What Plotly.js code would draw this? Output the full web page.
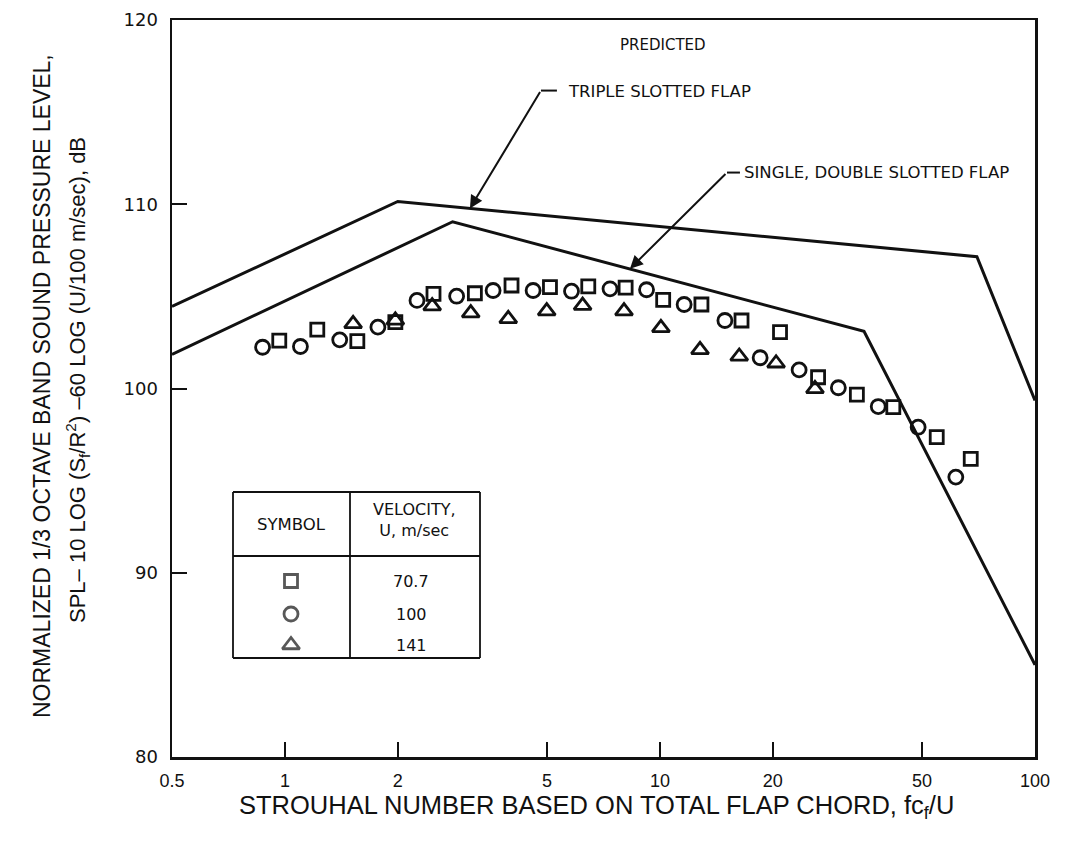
<!DOCTYPE html>
<html>
<head>
<meta charset="utf-8">
<script src="https://cdn.plot.ly/plotly-3.0.1.min.js"></script>
<style>
html,body{margin:0;padding:0;background:#fff;}
#chart{width:1088px;height:843px;}
</style>
</head>
<body>
<div id="chart"></div>
<script>
// ---- data ----
const xTickVals = [0.5, 1, 2, 5, 10, 20, 50, 100];
const xTickText = ["0.5", "1", "2", "5", "10", "20", "50", "100"];
const yTickVals = [80, 90, 100, 110, 120];

// predicted curves
const tripleX = [0.5, 2.0, 70, 100];
const tripleY = [104.45, 110.15, 107.15, 99.35];
const singleX = [0.5, 2.8, 35, 100];
const singleY = [101.85, 109.05, 103.1, 85.0];

// measured, U = 70.7 m/sec (squares)
const sqX = [0.966, 1.22, 1.56, 1.97, 2.49, 3.21, 4.02, 5.09, 6.44, 8.10, 10.2, 12.9, 16.5, 20.9, 26.4, 33.5, 41.9, 54.7, 67.4];
const sqY = [102.6, 103.2, 102.57, 103.6, 105.14, 105.17, 105.59, 105.5, 105.54, 105.47, 104.81, 104.56, 103.69, 103.06, 100.61, 99.67, 98.99, 97.36, 96.18];
// U = 100 m/sec (circles)
const ciX = [0.872, 1.10, 1.40, 1.77, 2.25, 2.87, 3.59, 4.59, 5.81, 7.36, 9.21, 11.6, 14.9, 18.5, 23.5, 29.9, 38.2, 48.8, 61.5];
const ciY = [102.24, 102.28, 102.64, 103.33, 104.78, 105.01, 105.32, 105.32, 105.28, 105.41, 105.36, 104.56, 103.69, 101.67, 101.01, 100.04, 99.02, 97.9, 95.19];
// U = 141 m/sec (triangles)
const trX = [1.52, 1.97, 2.47, 3.13, 3.94, 4.99, 6.22, 8.02, 10.06, 12.79, 16.27, 20.4, 25.9];
const trY = [103.51, 103.7, 104.47, 104.09, 103.78, 104.2, 104.5, 104.2, 103.29, 102.1, 101.74, 101.37, 99.98];

// legend table content
const legendSymbols = ["square-open", "circle-open", "triangle-up-open"];
const legendVelocities = ["70.7", "100", "141"];

// ---- layout constants ----
const W = 1088, H = 843;
const M = {l: 172, r: 53, t: 20, b: 86};
const PW = W - M.l - M.r, PH = H - M.t - M.b;
const px2paperX = px => (px - M.l) / PW;
const px2paperY = py => (H - M.b - py) / PH;

const black = '#111';
const FONT = 'DejaVu Sans, Liberation Sans, Arial, sans-serif';
const SANS = 'Liberation Sans, Arial, sans-serif';
const NARROW = 'Liberation Sans Narrow, Liberation Sans, Arial, sans-serif';

const mk = (sym, size) => ({symbol: sym, size: size, color: black, line: {color: black, width: 2.8}});

const traces = [
  {x: tripleX, y: tripleY, mode: 'lines', line: {color: black, width: 3}, hoverinfo: 'skip'},
  {x: singleX, y: singleY, mode: 'lines', line: {color: black, width: 3}, hoverinfo: 'skip'},
  {x: sqX, y: sqY, mode: 'markers', marker: mk('square-open', 13)},
  {x: ciX, y: ciY, mode: 'markers', marker: mk('circle-open', 14)},
  {x: trX, y: trY, mode: 'markers', marker: mk('triangle-up-open', 15)},
  // legend table symbols on an overlay axis spanning the plot area
  {x: [px2paperX(291), px2paperX(291), px2paperX(291)],
   y: [px2paperY(581), px2paperY(614), px2paperY(645)],
   xaxis: 'x2', yaxis: 'y2', mode: 'markers',
   marker: {symbol: legendSymbols, size: [13, 14, 15], color: black, line: {color: black, width: 2.8}},
   hoverinfo: 'skip'}
];

const shapes = [];
const lineShape = (x0, y0, x1, y1, w) => ({type: 'line', xref: 'paper', yref: 'paper',
  x0: px2paperX(x0), y0: px2paperY(y0), x1: px2paperX(x1), y1: px2paperY(y1), line: {color: black, width: w || 1.8}});
// legend table frame
shapes.push(lineShape(233, 492, 480, 492));
shapes.push(lineShape(233, 658, 480, 658));
shapes.push(lineShape(233, 492, 233, 658));
shapes.push(lineShape(480, 492, 480, 658));
shapes.push(lineShape(233, 556, 480, 556));
shapes.push(lineShape(350, 492, 350, 658));

// leader lines (short horizontal parts); shapes on log axis use data values
shapes.push({type: 'line', xref: 'x', yref: 'y', x0: Math.pow(10, 0.6827), x1: Math.pow(10, 0.7253), y0: 116.17, y1: 116.17, line: {color: black, width: 2}});
shapes.push({type: 'line', xref: 'x', yref: 'y', x0: Math.pow(10, 1.1787), x1: Math.pow(10, 1.2133), y0: 111.72, y1: 111.72, line: {color: black, width: 2}});

const ann = (o) => Object.assign({showarrow: false, xanchor: 'center', yanchor: 'middle'}, o);
const annotations = [
  ann({xref: 'x', yref: 'y', x: 1.008, y: 118.62, text: 'PREDICTED', font: {family: FONT, size: 15, color: black}}),
  ann({xref: 'x', yref: 'y', x: 0.7493, y: 116.1, xanchor: 'left', text: 'TRIPLE SLOTTED FLAP', font: {family: FONT, size: 16.5, color: black}}),
  ann({xref: 'x', yref: 'y', x: 1.2187, y: 111.72, xanchor: 'left', text: 'SINGLE, DOUBLE SLOTTED FLAP', font: {family: FONT, size: 16.5, color: black}}),
  // arrows (log10 x in annotation coordinates)
  {xref: 'x', yref: 'y', axref: 'x', ayref: 'y', x: 0.4933, y: 109.77, ax: 0.6827, ay: 116.17, text: '', showarrow: true,
   arrowhead: 2, arrowsize: 1.3, arrowwidth: 2, arrowcolor: black, standoff: 0},
  {xref: 'x', yref: 'y', axref: 'x', ayref: 'y', x: 0.92, y: 106.5, ax: 1.1787, ay: 111.72, text: '', showarrow: true,
   arrowhead: 2, arrowsize: 1.3, arrowwidth: 2, arrowcolor: black, standoff: 0},
  // legend table text
  ann({xref: 'paper', yref: 'paper', x: px2paperX(291), y: px2paperY(524), text: 'SYMBOL', font: {family: FONT, size: 16.5, color: black}}),
  ann({xref: 'paper', yref: 'paper', x: px2paperX(414), y: px2paperY(520), text: 'VELOCITY,<br>U, m/sec', font: {family: FONT, size: 16, color: black}}),
  // axis titles
  ann({xref: 'paper', yref: 'paper', x: px2paperX(596), y: px2paperY(807), text: 'STROUHAL NUMBER BASED ON TOTAL FLAP CHORD, fc<sub>f</sub>/U', font: {family: NARROW, size: 25.5, color: black}}),
  ann({xref: 'paper', yref: 'paper', x: px2paperX(42), y: px2paperY(386), textangle: -90, text: 'NORMALIZED 1/3 OCTAVE BAND SOUND PRESSURE LEVEL,', font: {family: NARROW, size: 23, color: black}}),
  ann({xref: 'paper', yref: 'paper', x: px2paperX(77), y: px2paperY(380), textangle: -90, text: 'SPL– 10 LOG (S<sub>f</sub>/R<sup>2</sup>) –60 LOG (U/100 m/sec), dB', font: {family: NARROW, size: 22, color: black}})
];
legendVelocities.forEach((v, i) => {
  annotations.push(ann({xref: 'paper', yref: 'paper', x: px2paperX(411), y: px2paperY([581, 614, 645][i]), text: v,
    font: {family: FONT, size: 16, color: black}}));
});

const layout = {
  width: W, height: H, margin: M, showlegend: false,
  paper_bgcolor: '#fff', plot_bgcolor: '#fff',
  xaxis: {type: 'log', range: [Math.log10(0.5), 2], tickvals: xTickVals, ticktext: xTickText,
    showgrid: false, zeroline: false, showline: true, mirror: true, linecolor: black, linewidth: 2.5,
    ticks: 'inside', ticklen: 15, tickwidth: 2, tickcolor: black, ticklabelstandoff: 6,
    tickfont: {family: SANS, size: 18, color: black}},
  yaxis: {range: [80, 120], tickvals: yTickVals,
    showgrid: false, zeroline: false, showline: true, mirror: true, linecolor: black, linewidth: 2.5,
    ticks: 'inside', ticklen: 15, tickwidth: 2, tickcolor: black, ticklabelstandoff: 8,
    tickfont: {family: FONT, size: 18, color: black}},
  xaxis2: {overlaying: 'x', range: [0, 1], visible: false, fixedrange: true},
  yaxis2: {overlaying: 'y', range: [0, 1], visible: false, fixedrange: true},
  shapes: shapes, annotations: annotations
};

Plotly.newPlot('chart', traces, layout, {displayModeBar: false, staticPlot: true});
</script>
</body>
</html>
